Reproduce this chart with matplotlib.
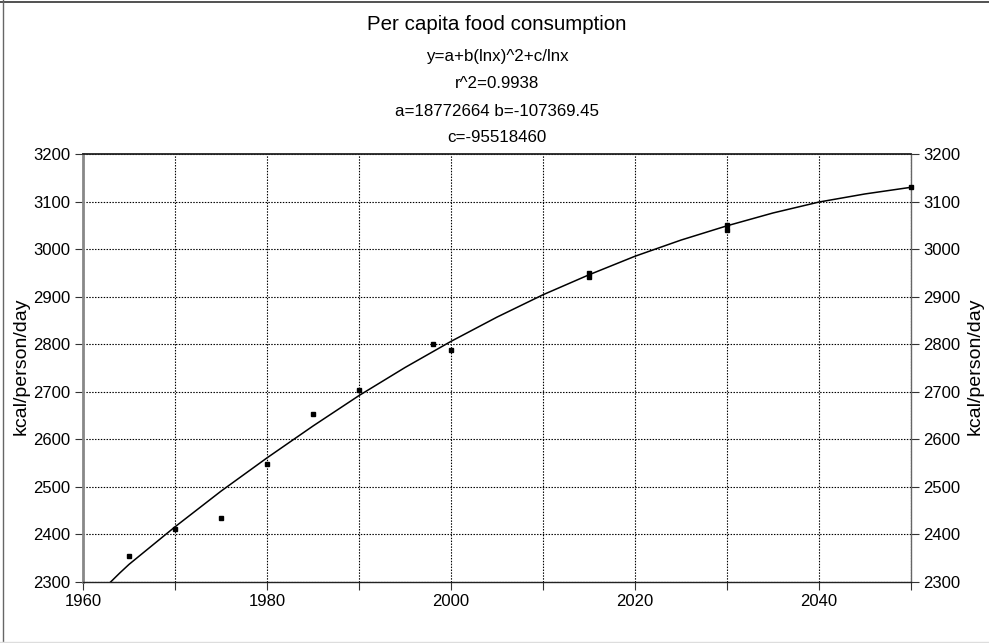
import matplotlib
matplotlib.use("Agg")
import matplotlib.pyplot as plt
from matplotlib.lines import Line2D

plt.rcParams["font.family"] = ["Liberation Sans", "DejaVu Sans"]

# observed data points (year, kcal/person/day)
obs_year = [1965, 1970, 1975, 1980, 1985, 1990, 1998, 2000, 2015, 2015, 2030, 2030, 2050]
obs_kcal = [2355, 2411, 2434, 2548, 2654, 2703, 2801, 2787, 2950, 2942, 3050, 3040, 3130]

# fitted curve
fit_year = [1963, 1964, 1965, 1970, 1975, 1980, 1985, 1990, 1995, 2000, 2005, 2010,
            2015, 2020, 2025, 2030, 2035, 2040, 2045, 2050]
fit_kcal = [2300, 2319, 2337, 2416, 2491, 2561, 2628, 2692, 2751, 2806, 2857, 2904,
            2946, 2985, 3019, 3049, 3076, 3099, 3116, 3130]

title_lines = ["Per capita food consumption", "y=a+b(lnx)^2+c/lnx", "r^2=0.9938",
               "a=18772664 b=-107369.45", "c=-95518460"]
ylabel = "kcal/person/day"

W, H = 989, 643
fig = plt.figure(figsize=(W / 100, H / 100), dpi=100)
fig.patch.set_facecolor("white")
# outer frame: dark top, grey left, faint bottom, nothing on the right
fig.lines.append(Line2D([0, 1], [1 - 1.5 / H] * 2, transform=fig.transFigure, color="#333333", lw=1.2))
fig.lines.append(Line2D([3 / W] * 2, [1.5 / H, 1], transform=fig.transFigure, color="#666666", lw=1.0))
fig.lines.append(Line2D([0, 1], [1.5 / H] * 2, transform=fig.transFigure, color="#dddddd", lw=1.0))

ax = fig.add_axes([83 / W, (H - 582) / H, (911 - 83) / W, (582 - 154) / H])
ax.plot(fit_year, fit_kcal, color="black", lw=1.1, zorder=3)
ax.plot(obs_year, obs_kcal, "s", color="black", ms=2.2, zorder=4, clip_on=False)

ax.set_xlim(1960, 2050)
ax.set_ylim(2300, 3200)
ax.set_xticks(range(1960, 2051, 10))
ax.set_xticklabels([str(y) if y % 20 == 0 else "" for y in range(1960, 2051, 10)])
ax.set_yticks(range(2300, 3201, 100))
ax.grid(True, color="black", lw=0.8, ls=(0, (1.3, 1.3)))
ax.tick_params(axis="both", labelsize=12, length=6, width=0.8, color="#333333", pad=3)
ax.tick_params(axis="y", right=True, labelright=True)
ax.tick_params(axis="x", pad=3)

ax.spines["left"].set_color("#888888")
ax.spines["left"].set_linewidth(2.0)
ax.spines["right"].set_color("#666666")
ax.spines["right"].set_linewidth(1.0)
ax.spines["top"].set_color("#222222")
ax.spines["top"].set_linewidth(1.3)
ax.spines["bottom"].set_color("#222222")
ax.spines["bottom"].set_linewidth(1.0)

cx = (83 + 911) / 2 / W
title_y = [24, 56, 83, 111, 138]
sizes = [14.8, 12.2, 12.2, 12.2, 12.2]
for txt, yy, fs in zip(title_lines, title_y, sizes):
    fig.text(cx, 1 - yy / H, txt, ha="center", va="center", fontsize=fs)

fig.text(21 / W, 1 - 366 / H, ylabel, rotation=90, ha="center", va="center", fontsize=14)
fig.text(975 / W, 1 - 366 / H, ylabel, rotation=90, ha="center", va="center", fontsize=14)

fig.savefig("out.png", dpi=100, facecolor="white")
